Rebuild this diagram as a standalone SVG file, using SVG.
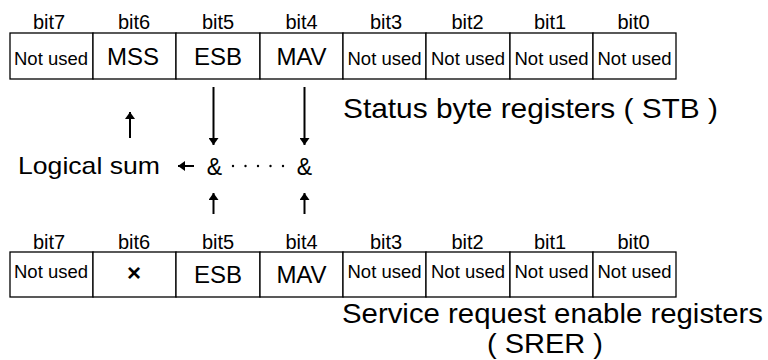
<svg xmlns="http://www.w3.org/2000/svg" width="768" height="360" viewBox="0 0 768 360">
<style>
text{font-family:"Liberation Sans",Arial,sans-serif;fill:#000}
.bit{font-size:20px;text-anchor:middle}
.nu{font-size:18.5px;text-anchor:middle}
.big{font-size:24px;text-anchor:middle}
.lbl{font-size:28px}
.cell{fill:#fff;stroke:#000;stroke-width:1.3}
.ln{stroke:#000;stroke-width:2;fill:none}
</style>
<defs>
<marker id="ah" viewBox="0 0 7 10" refX="7" refY="5" markerWidth="7" markerHeight="10" markerUnits="userSpaceOnUse" orient="auto">
<path d="M0,0 L7,5 L0,10 Z" fill="#000"/>
</marker>
</defs>

<g id="stb">
<g id="stb-bit7"><text class="bit" x="49" y="29">bit7</text><rect class="cell" x="10" y="33" width="83" height="46"/><text class="nu" x="51" y="65" textLength="74" lengthAdjust="spacingAndGlyphs">Not used</text></g>
<g id="stb-bit6"><text class="bit" x="134" y="29">bit6</text><rect class="cell" x="93" y="33" width="83" height="46"/><text class="big" x="133" y="65">MSS</text></g>
<g id="stb-bit5"><text class="bit" x="218" y="29">bit5</text><rect class="cell" x="176" y="33" width="84" height="46"/><text class="big" x="218" y="65">ESB</text></g>
<g id="stb-bit4"><text class="bit" x="301.5" y="29">bit4</text><rect class="cell" x="260" y="33" width="83" height="46"/><text class="big" x="301.5" y="65">MAV</text></g>
<g id="stb-bit3"><text class="bit" x="386" y="29">bit3</text><rect class="cell" x="343" y="33" width="83" height="46"/><text class="nu" x="384.5" y="65" textLength="74" lengthAdjust="spacingAndGlyphs">Not used</text></g>
<g id="stb-bit2"><text class="bit" x="467.5" y="29">bit2</text><rect class="cell" x="426" y="33" width="84" height="46"/><text class="nu" x="468" y="65" textLength="74" lengthAdjust="spacingAndGlyphs">Not used</text></g>
<g id="stb-bit1"><text class="bit" x="550" y="29">bit1</text><rect class="cell" x="510" y="33" width="83" height="46"/><text class="nu" x="551.5" y="65" textLength="74" lengthAdjust="spacingAndGlyphs">Not used</text></g>
<g id="stb-bit0"><text class="bit" x="633.5" y="29">bit0</text><rect class="cell" x="593" y="33" width="83" height="46"/><text class="nu" x="634.5" y="65" textLength="74" lengthAdjust="spacingAndGlyphs">Not used</text></g>
</g>
<text id="stb-label" class="lbl" x="343" y="118" textLength="375" lengthAdjust="spacingAndGlyphs">Status byte registers ( STB )</text>

<g id="logic">
<text id="logical-sum" x="18" y="174" style="font-size:24px" textLength="142" lengthAdjust="spacingAndGlyphs">Logical sum</text>
<text id="and5" x="214.5" y="175" style="font-size:23px;text-anchor:middle">&amp;</text>
<text id="and4" x="304.5" y="175" style="font-size:23px;text-anchor:middle">&amp;</text>
<g id="dots" fill="#000">
<circle cx="233" cy="166" r="1.2"/><circle cx="245.5" cy="166" r="1.2"/><circle cx="258" cy="166" r="1.2"/><circle cx="270.5" cy="166" r="1.2"/><circle cx="283" cy="166" r="1.2"/>
</g>
</g>

<g id="connectors">
<line class="ln" x1="213.5" y1="87" x2="213.5" y2="145" marker-end="url(#ah)"/>
<line class="ln" x1="304.5" y1="87" x2="304.5" y2="145" marker-end="url(#ah)"/>
<line class="ln" x1="130" y1="138" x2="130" y2="112" marker-end="url(#ah)"/>
<line class="ln" x1="194" y1="166" x2="178" y2="166" marker-end="url(#ah)"/>
<line class="ln" x1="213.5" y1="214" x2="213.5" y2="193" marker-end="url(#ah)"/>
<line class="ln" x1="304.5" y1="214" x2="304.5" y2="193" marker-end="url(#ah)"/>
</g>

<g id="srer">
<g id="srer-bit7"><text class="bit" x="49" y="249">bit7</text><rect class="cell" x="10" y="252" width="83" height="45"/><text class="nu" x="51" y="278" textLength="74" lengthAdjust="spacingAndGlyphs">Not used</text></g>
<g id="srer-bit6"><text class="bit" x="134" y="249">bit6</text><rect class="cell" x="93" y="252" width="83" height="45"/><text class="big" x="134" y="281" style="font-weight:bold">×</text></g>
<g id="srer-bit5"><text class="bit" x="218" y="249">bit5</text><rect class="cell" x="176" y="252" width="84" height="45"/><text class="big" x="218" y="283">ESB</text></g>
<g id="srer-bit4"><text class="bit" x="301.5" y="249">bit4</text><rect class="cell" x="260" y="252" width="83" height="45"/><text class="big" x="301.5" y="283">MAV</text></g>
<g id="srer-bit3"><text class="bit" x="386" y="249">bit3</text><rect class="cell" x="343" y="252" width="83" height="45"/><text class="nu" x="384.5" y="278" textLength="74" lengthAdjust="spacingAndGlyphs">Not used</text></g>
<g id="srer-bit2"><text class="bit" x="467.5" y="249">bit2</text><rect class="cell" x="426" y="252" width="84" height="45"/><text class="nu" x="468" y="278" textLength="74" lengthAdjust="spacingAndGlyphs">Not used</text></g>
<g id="srer-bit1"><text class="bit" x="550" y="249">bit1</text><rect class="cell" x="510" y="252" width="83" height="45"/><text class="nu" x="551.5" y="278" textLength="74" lengthAdjust="spacingAndGlyphs">Not used</text></g>
<g id="srer-bit0"><text class="bit" x="633.5" y="249">bit0</text><rect class="cell" x="593" y="252" width="83" height="45"/><text class="nu" x="634.5" y="278" textLength="74" lengthAdjust="spacingAndGlyphs">Not used</text></g>
</g>
<text id="srer-label" class="lbl" x="342" y="323" textLength="421" lengthAdjust="spacingAndGlyphs">Service request enable registers</text>
<text id="srer-label2" class="lbl" x="487" y="353" textLength="116" lengthAdjust="spacingAndGlyphs">( SRER )</text>
</svg>
